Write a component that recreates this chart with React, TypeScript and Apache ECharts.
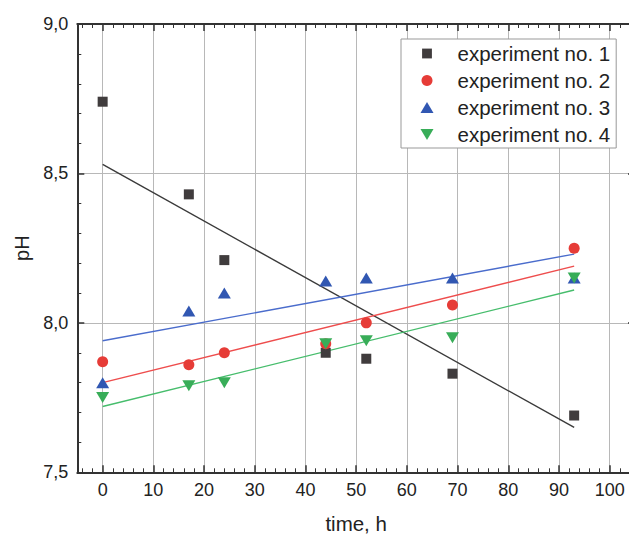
import { useEffect, useRef } from 'react';
import * as echarts from 'echarts';

// ---- data ----
const times = [0, 17, 24, 44, 52, 69, 93];
const exp1 = [8.74, 8.43, 8.21, 7.9, 7.88, 7.83, 7.69];
const exp2 = [7.87, 7.86, 7.9, 7.93, 8.0, 8.06, 8.25];
const exp3 = [7.8, 8.04, 8.1, 8.14, 8.15, 8.15, 8.15];
const exp4 = [7.75, 7.79, 7.8, 7.93, 7.94, 7.95, 8.15];

const fitTimes = [0, 93];
const fit1 = [8.53, 7.65];
const fit2 = [7.8, 8.19];
const fit3 = [7.94, 8.23];
const fit4 = [7.72, 8.11];

const seriesNames = ['experiment no. 1', 'experiment no. 2', 'experiment no. 3', 'experiment no. 4'];
const xLabelValues = [0, 10, 20, 30, 40, 50, 60, 70, 80, 90, 100];

const markerColors = ['#403c3d', '#e63c37', '#3157b2', '#38ad58'];
const lineColors = ['#3a3a3a', '#ee4d4d', '#4a6ccc', '#46bd6c'];

const font = "'Liberation Sans', Arial, Helvetica, sans-serif";
const axisColor = '#333';
const gridColor = '#b8b8b8';
const textColor = '#222';

const SQUARE = 'path://M-0.6,-0.6M0,0h10v10h-10zM10.6,10.6';
const UP = 'path://M6.5,0L13,11L0,11Z';
const DOWN = 'path://M0,0L13,0L6.5,11Z';

const pairs = (xs: number[], ys: number[]) => xs.map((x, i) => [x, ys[i]]);

export default function App() {
  const ref = useRef<HTMLDivElement>(null);

  useEffect(() => {
    if (!ref.current) return;
    const chart = echarts.init(ref.current, undefined, { renderer: 'svg' });

    const xCommon = {
      type: 'value' as const,
      min: -5,
      max: 105,
      splitNumber: 11,
      axisLine: { show: true, onZero: false, lineStyle: { color: axisColor, width: 2 } },
      axisTick: { show: true, inside: true, length: 7, lineStyle: { color: axisColor, width: 1.5 } },
      minorTick: { show: true, splitNumber: 5, length: 4, lineStyle: { color: axisColor, width: 1 } },
    };
    const yCommon = {
      type: 'value' as const,
      min: 7.5,
      max: 9,
      interval: 0.5,
      axisLine: { show: true, onZero: false, lineStyle: { color: axisColor, width: 2 } },
      axisTick: { show: true, inside: true, length: 7, lineStyle: { color: axisColor, width: 1.5 } },
      minorTick: { show: true, splitNumber: 5, length: 4, lineStyle: { color: axisColor, width: 1 } },
    };

    const scatterData = [exp1, exp2, exp3, exp4];
    const fitData = [fit1, fit2, fit3, fit4];
    const symbols = ['rect', 'circle', 'triangle', DOWN];
    const symbolSizes: any[] = [10, 11, [13, 11], [13, 11]];
    const legendIcons = [SQUARE, 'circle', UP, DOWN];

    chart.setOption({
      animation: false,
      backgroundColor: '#fff',
      textStyle: { fontFamily: font },
      grid: {
        left: 77.3,
        top: 24,
        width: 557.7,
        bottom: 61.7,
        containLabel: false,
        outerBoundsMode: 'none',
      },
      legend: {
        left: 401,
        top: 39,
        orient: 'vertical',
        padding: [4, 6, 3, 19.5],
        itemWidth: 13,
        itemHeight: 11,
        itemGap: 6,
        backgroundColor: '#fff',
        borderColor: '#999',
        borderWidth: 1,
        borderRadius: 0,
        selectedMode: false,
        textStyle: {
          fontSize: 20.5,
          lineHeight: 20,
          color: textColor,
          fontFamily: font,
          padding: [0, 0, 0, 19],
        },
        data: seriesNames.map((n, i) => ({ name: n, icon: legendIcons[i], itemStyle: { color: markerColors[i] } })),
      },
      xAxis: [
        {
          ...xCommon,
          position: 'bottom',
          splitLine: { show: true, lineStyle: { color: gridColor, width: 1 } },
          axisLabel: {
            fontSize: 18,
            color: textColor,
            margin: 9,
            fontFamily: font,
            formatter: (v: number) => (xLabelValues.indexOf(v) >= 0 ? String(v) : ''),
          },
          name: 'time, h',
          nameLocation: 'middle',
          nameGap: 41,
          nameTextStyle: { fontSize: 20.5, color: textColor, fontFamily: font },
        },
        {
          ...xCommon,
          position: 'top',
          splitLine: { show: false },
          axisLabel: { show: false },
        },
      ],
      yAxis: [
        {
          ...yCommon,
          position: 'left',
          splitLine: { show: true, lineStyle: { color: gridColor, width: 1 } },
          axisLabel: {
            fontSize: 18,
            color: textColor,
            margin: 9,
            fontFamily: font,
            formatter: (v: number) => v.toFixed(1).replace('.', ','),
          },
          name: 'pH',
          nameLocation: 'middle',
          nameGap: 42,
          nameTextStyle: { fontSize: 20, color: textColor, fontFamily: font },
        },
        {
          ...yCommon,
          position: 'right',
          splitLine: { show: false },
          axisLabel: { show: false },
        },
      ],
      series: [
        ...fitData.map((f, i) => ({
          type: 'line',
          xAxisIndex: 0,
          yAxisIndex: 0,
          data: pairs(fitTimes, f),
          symbol: 'none',
          silent: true,
          lineStyle: { color: lineColors[i], width: 1.4 },
          z: 2,
        })),
        ...scatterData.map((d, i) => ({
          type: 'scatter',
          name: seriesNames[i],
          xAxisIndex: 0,
          yAxisIndex: 0,
          data: pairs(times, d),
          symbol: symbols[i],
          symbolSize: symbolSizes[i],
          itemStyle: { color: markerColors[i], opacity: 1 },
          z: 3,
        })),
      ],
    });

    return () => chart.dispose();
  }, []);

  return (
    <div
      ref={ref}
      style={{ position: 'absolute', left: 0, top: 0, width: 629, height: 534 }}
    />
  );
}
